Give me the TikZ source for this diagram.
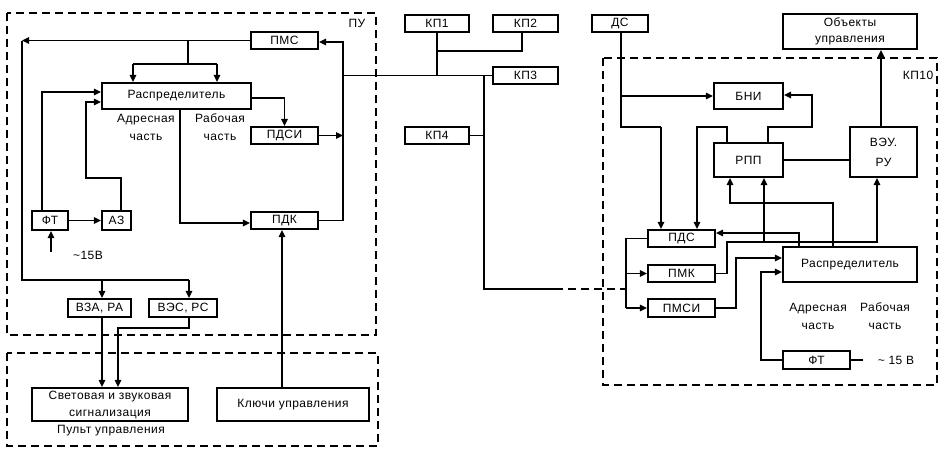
\documentclass[tikz,border=0pt]{standalone}
\usepackage{fontspec}
\setmainfont{Liberation Sans}[LetterSpace=4]
\usetikzlibrary{arrows.meta}
\newcommand\fsz{\fontsize{12}{18}\selectfont}
\begin{document}
\begin{tikzpicture}[x=1pt,y=-1pt,
  bx/.style={draw,line width=2.1pt,inner sep=0pt,font=\fsz,align=center},
  ln/.style={line width=1.5pt},
  ar/.style={ln,-{Triangle[length=7pt,width=6.5pt]}},
  dbox/.style={draw,line width=1.5pt,dash pattern=on 8pt off 5pt},
  dln/.style={line width=1.5pt,dash pattern=on 8pt off 5pt},
  lbl/.style={inner sep=0pt,font=\fsz,align=center}]
\useasboundingbox (0,0) rectangle (949,464);
% dashed frames
\draw[dbox] (7,13) rectangle (376,335);
\draw[dbox] (7,353) rectangle (378,446);
\draw[dbox] (603,58) rectangle (937,385);
% PU nodes
\node[bx,minimum width=67pt,minimum height=17pt] (pms) at (284.5,40.5) {ПМС};
\node[bx,minimum width=149pt,minimum height=26pt] (raspU) at (176.5,96) {Распределитель};
\node[bx,minimum width=67pt,minimum height=17pt] (pdsi) at (284.5,135.5) {ПДСИ};
\node[bx,minimum width=67pt,minimum height=17pt] (pdk) at (284.5,220.5) {ПДК};
\node[bx,minimum width=36pt,minimum height=19pt] (ftU) at (50,220.5) {ФТ};
\node[bx,minimum width=29pt,minimum height=19pt] (az) at (116.5,220.5) {АЗ};
\node[bx,minimum width=63pt,minimum height=18pt] (vza) at (99.5,308) {ВЗА, РА};
\node[bx,minimum width=68pt,minimum height=18pt] (ves) at (183,308) {ВЭС, РС};
\node[bx,minimum width=156pt,minimum height=33pt] (svet) at (110,404.5) {Световая и звуковая\\[-1pt]сигнализация};
\node[bx,minimum width=152pt,minimum height=33pt] (klu) at (293,404.5) {Ключи управления};
% KP nodes
\node[bx,minimum width=64pt,minimum height=17pt] (kp1) at (437,23.5) {КП1};
\node[bx,minimum width=65pt,minimum height=17pt] (kp2) at (525.5,23.5) {КП2};
\node[bx,minimum width=65pt,minimum height=17pt] (kp3) at (525.5,75.5) {КП3};
\node[bx,minimum width=64pt,minimum height=17pt] (kp4) at (437,135.5) {КП4};
\node[bx,minimum width=56pt,minimum height=17pt] (ds) at (620,23.5) {ДС};
\node[bx,minimum width=134pt,minimum height=35pt] (obj) at (850,31.5) {Объекты\\[-2pt]управления};
% KP10 nodes
\node[bx,minimum width=69pt,minimum height=26pt] (bni) at (748.5,96) {БНИ};
\node[bx,minimum width=69pt,minimum height=34pt] (rpp) at (748.5,160) {РПП};
\node[bx,minimum width=67pt,minimum height=50pt] (veu) at (883.5,152) {ВЭУ.\\[2pt]РУ};
\node[bx,minimum width=67pt,minimum height=17pt] (pds) at (681.5,238.5) {ПДС};
\node[bx,minimum width=67pt,minimum height=17pt] (pmk) at (681.5,273.5) {ПМК};
\node[bx,minimum width=67pt,minimum height=18pt] (pmsi) at (681.5,308) {ПМСИ};
\node[bx,minimum width=134pt,minimum height=35pt] (raspK) at (850,264.5) {Распределитель};
\node[bx,minimum width=67pt,minimum height=18pt] (ftK) at (816.5,360) {ФТ};
% labels
\node[lbl] (lpu) at (357,23) {ПУ};
\node[lbl] (lkp10) at (918,75) {КП10};
\node[lbl] (lpult) at (111,431) {Пульт управления};
\node[lbl] (l15a) at (88,255) {\textasciitilde 15В};
\node[lbl] (l15b) at (896,360) {\textasciitilde{} 15 В};
\node[lbl] (ladrU) at (146,127) {Адресная\\часть};
\node[lbl] (lrabU) at (220,127) {Рабочая\\часть};
\node[lbl] (ladrK) at (818,316) {Адресная\\часть};
\node[lbl] (lrabK) at (885,316) {Рабочая\\часть};
% PU connectors
\coordinate (c1) at (22,40.5);
\draw[ar] (pms.west) -- (c1);
\draw[ln] (c1) -- (22,280) -- (189,280);
\draw[ar] (189,280) -- (189,0 |- ves.north);
\draw[ar] (102,280) -- (102,0 |- vza.north);
\draw[ln] (188,40.5) -- (188,64);
\draw[ln] (133,64) -- (217,64);
\draw[ar] (133,64) -- (133,0 |- raspU.north);
\draw[ar] (217,64) -- (217,0 |- raspU.north);
\draw[ar] (raspU.east |- 0,98) -- (284.5,98) -- (pdsi.north);
\draw[ar] (pdsi.east) -- (343,135.5);
\draw[ar] (pdk.east) -- (343,220.5) -- (343,42) -- (pms.east |- 0,42);
\draw[ar] (180,0 |- raspU.south) -- (180,223) -- (pdk.west |- 0,223);
\draw[ar] (ftU.east) -- (az.west);
\draw[ar] (42,0 |- ftU.north) -- (42,92) -- (raspU.west |- 0,92);
\draw[ar] (121,0 |- az.north) -- (121,178) -- (86,178) -- (86,102) -- (raspU.west |- 0,102);
\coordinate (c15) at (51,252);
\draw[ar] (c15) -- (51,0 |- ftU.south);
\draw[ar] (102,0 |- vza.south) -- (102,0 |- svet.north);
\draw[ar] (189,0 |- ves.south) -- (189,328) -- (118,328) -- (118,0 |- svet.north);
\draw[ar] (282,0 |- klu.north) -- (282,0 |- pdk.south);
% bus
\draw[ln] (343,0 |- kp3.west) -- (kp3.west);
\draw[ln] (437,0 |- kp1.south) -- (437,75.5);
\draw[ln] (522,0 |- kp2.south) -- (522,51) -- (437,51);
\draw[ln] (484,75.5) -- (484,289) -- (555,289);
\draw[dln] (555,289) -- (626,289);
\draw[ln] (kp4.east) -- (484,0 |- kp4.east);
% KP10 connectors
\draw[ln] (pds.west) -- (626,238.5) -- (626,308);
\draw[ar] (626,273.5) -- (pmk.west);
\draw[ar] (626,308) -- (pmsi.west);
\draw[ln] (621,0 |- ds.south) -- (621,127) -- (661,127);
\draw[ar] (661,127) -- (661,0 |- pds.north);
\draw[ar] (621,96) -- (bni.west);
\draw[ar] (768,0 |- rpp.north) -- (768,127) -- (812,127) -- (812,95) -- (bni.east |- 0,95);
\draw[ar] (727,0 |- rpp.north) -- (727,127) -- (697,127) -- (697,0 |- pds.north);
\draw[ln] (rpp.east) -- (veu.west |- 0,160);
\draw[ar] (881,0 |- veu.north) -- (881,0 |- obj.south);
\draw[ar] (pmk.east) -- (727,273.5) -- (727,242) -- (877,242) -- (877,0 |- veu.south);
\draw[ar] (764,242) -- (764,0 |- rpp.south);
\draw[ar] (833,0 |- raspK.north) -- (833,203) -- (730,203) -- (730,0 |- rpp.south);
\draw[ar] (799,0 |- raspK.north) -- (799,233) -- (pds.east |- 0,233);
\draw[ar] (pmsi.east) -- (736,308) -- (736,258) -- (raspK.west |- 0,258);
\draw[ar] (ftK.west) -- (761,360) -- (761,272) -- (raspK.west |- 0,272);
\draw[ln] (ftK.east) -- (863,360);
\end{tikzpicture}
\end{document}
